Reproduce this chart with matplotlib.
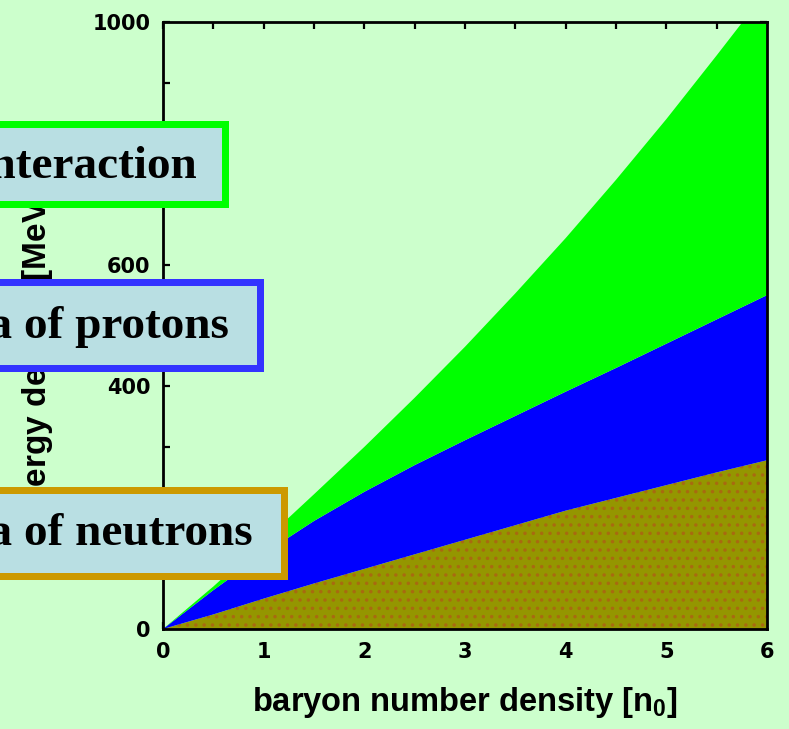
import numpy as np
import matplotlib
matplotlib.use('Agg')
import matplotlib.pyplot as plt
from matplotlib.patches import Rectangle

# baryon number density [n0] and energy contributions [MeV/fm^3]
density     = [0, 0.5, 1, 1.5, 2, 2.5, 3, 3.5, 4, 4.5, 5, 5.5, 6]
neutrons    = [0, 24, 50, 75, 99, 123, 147, 171, 195, 216, 237, 258, 278]
protons     = [0, 40, 74, 103, 127, 147, 164, 180, 196, 214, 233, 252, 272]
interaction = [0, 6, 21, 44, 74, 111, 154, 202, 253, 310, 370, 435, 502]

box_texts  = ["Interaction", "Fermi sea of protons", "Fermi sea of neutrons"]
box_edges  = ['#00ff00', '#3333ff', '#cc9900']

bg = '#ccffcc'
W, H = 789, 729

plt.rcParams['mathtext.fontset'] = 'custom'
plt.rcParams['mathtext.rm'] = 'Liberation Sans:bold'
plt.rcParams['mathtext.it'] = 'Liberation Sans:bold'
plt.rcParams['mathtext.bf'] = 'Liberation Sans:bold'
plt.rcParams['hatch.linewidth'] = 1.3

fig = plt.figure(figsize=(W/100, H/100), dpi=100, facecolor=bg)
ax = fig.add_axes([163/W, 1-629/H, (767-163)/W, (629-22)/H])
ax.set_facecolor(bg)
ax.set_axisbelow(True)

polys = ax.stackplot(density, neutrons, protons, interaction,
                     colors=['#949600', '#0000ff', '#00ff00'], lw=0)
polys[0].set_edgecolor('#a86a10')
polys[0].set_hatch('..')
polys[0].set_linewidth(0)

ax.set_xlim(0, 6)
ax.set_ylim(0, 1000)
ax.set_xticks(np.arange(0, 7, 1))
ax.set_xticks(np.arange(0, 6.01, 0.5), minor=True)
ax.set_yticks(np.arange(0, 1001, 200))
ax.set_yticks(np.arange(0, 1001, 100), minor=True)

for s in ax.spines.values():
    s.set_linewidth(2)
    s.set_zorder(3)
ax.tick_params(which='both', direction='in', top=True, right=True,
               length=5, width=1.6, color='k')
ax.tick_params(axis='both', labelsize=15, pad=9)
for lab in ax.get_xticklabels() + ax.get_yticklabels():
    lab.set_fontfamily('DejaVu Sans')
    lab.set_fontweight('bold')

ax.set_xlabel(r'baryon number density [n$_0$]', fontsize=23.5, fontweight='bold',
              family='Liberation Sans', labelpad=17)
ax.set_ylabel(r'energy density [MeV/fm$^3$]', fontsize=24, fontweight='bold',
              family='Liberation Sans')
ax.yaxis.set_label_coords(-0.175, 0.5)

# labelled boxes on the left edge, coordinates in pixels
boxes = [(228, 120, 207, 197, 178),
         (263, 278, 371, 229, 338),
         (287, 486, 579, 253, 545)]
lw_px = 7
for (right, top, bottom, tx, ty), txt, ec in zip(boxes, box_texts, box_edges):
    x0 = -20
    rect = Rectangle(((x0)/W, 1-(bottom-lw_px/2)/H),
                     (right-lw_px/2-x0)/W, (bottom-top-lw_px)/H,
                     transform=fig.transFigure, facecolor='#b9dfe3',
                     edgecolor=ec, lw=lw_px*0.72, zorder=10, clip_on=False)
    fig.patches.append(rect)
    fig.text(tx/W, 1-ty/H, txt, ha='right', va='baseline', fontsize=34,
             fontweight='bold', family='Liberation Serif', zorder=11)

fig.savefig('out.png', dpi=100, facecolor=bg)
